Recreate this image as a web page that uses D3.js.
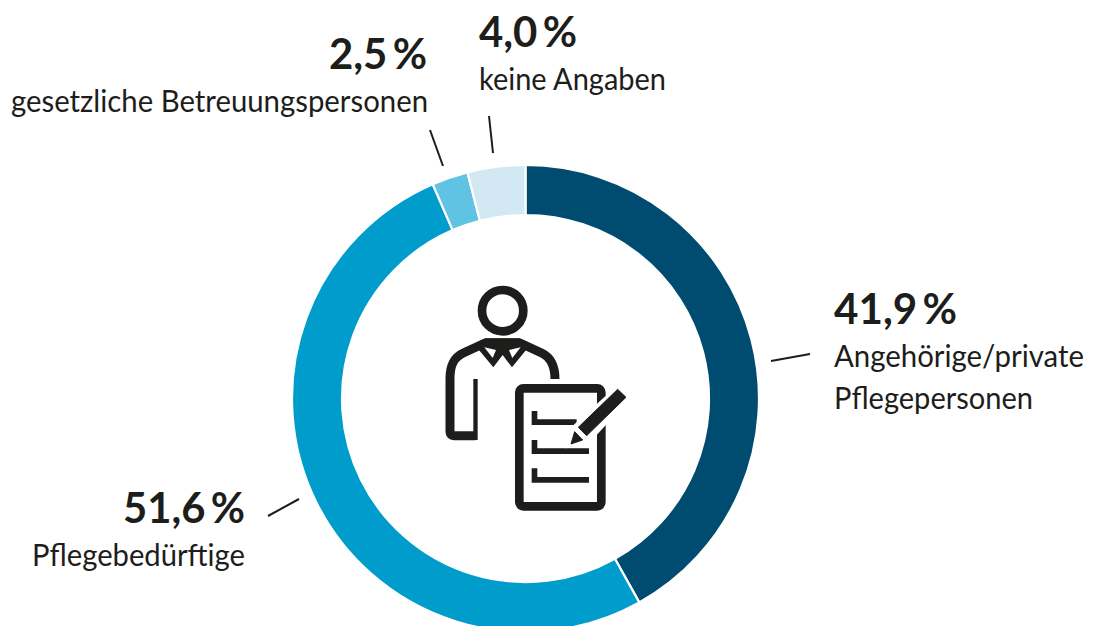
<!DOCTYPE html>
<html lang="de">
<head>
<meta charset="utf-8">
<script src="https://cdn.jsdelivr.net/npm/d3@7/dist/d3.min.js"></script>
<style>
  html, body { margin: 0; padding: 0; background: #fff; overflow: hidden; }
  svg { display: block; }
  text { font-family: Lato, "Open Sans", sans-serif; fill: #1d1d1b; }
</style>
</head>
<body>
<div id="chart"></div>
<script>
var groups = ["Angehörige/private Pflegepersonen", "Pflegebedürftige", "gesetzliche Betreuungspersonen", "keine Angaben"];
var shares = [41.9, 51.6, 2.5, 4.0];
var shareLabels = ["41,9\u2009%", "51,6\u2009%", "2,5\u2009%", "4,0\u2009%"];
var sliceColors = ["#004c70", "#009ccc", "#60c3e3", "#d2e9f3"];

var W = 1093, H = 626;
var CX = 525.5, CY = 398.5, R_OUT = 233.5, R_IN = 183.5;

var svg = d3.select("#chart").append("svg").attr("width", W).attr("height", H);

// ── Donut ──────────────────────────────────────────
var pie = d3.pie().sort(null).value(function (d) { return d; });
var arc = d3.arc().innerRadius(R_IN).outerRadius(R_OUT);

svg.append("g")
  .attr("transform", "translate(" + CX + "," + CY + ")")
  .selectAll("path")
  .data(pie(shares))
  .join("path")
  .attr("d", arc)
  .attr("fill", function (d, i) { return sliceColors[i]; })
  .attr("stroke", "#fff")
  .attr("stroke-width", 2.2);

// ── Leader lines ───────────────────────────────────
var leaders = [
  [771, 361, 810, 354],
  [299, 499, 268, 516],
  [443, 166, 430, 130],
  [493, 153, 489, 116]
];
svg.selectAll("line.leader")
  .data(leaders)
  .join("line")
  .attr("class", "leader")
  .attr("x1", function (d) { return d[0]; })
  .attr("y1", function (d) { return d[1]; })
  .attr("x2", function (d) { return d[2]; })
  .attr("y2", function (d) { return d[3]; })
  .attr("stroke", "#1d1d1b")
  .attr("stroke-width", 2);

// ── Labels: [x, baseline, anchor, width] ───────────
var valuePos = [
  [834, 324, "start", 123],
  [245, 523, "end", 122],
  [427, 69, "end", 98],
  [479, 47, "start", 98]
];
var namePos = [
  [[834, 367, "start", 250, "Angehörige/private"], [834, 409, "start", 199, "Pflegepersonen"]],
  [[245, 566, "end", 213, groups[1]]],
  [[428, 112, "end", 417, groups[2]]],
  [[479, 90, "start", 187, groups[3]]]
];

function put(t, p) {
  t.attr("x", p[0]).attr("y", p[1]).attr("text-anchor", p[2])
    .attr("textLength", p[3]).attr("lengthAdjust", "spacingAndGlyphs");
}

shareLabels.forEach(function (s, i) {
  svg.append("text").attr("font-size", 42).attr("font-weight", 700)
    .call(put, valuePos[i]).text(s);
  namePos[i].forEach(function (p) {
    svg.append("text").attr("font-size", 30).call(put, p).text(p[4]);
  });
});

// ── Icon (drawn in 3x zoom units) ──────────────────
var INK = "#1d1d1b";
var icon = svg.append("g").attr("transform", "translate(430,270) scale(0.3333)");

icon.append("circle").attr("cx", 218).attr("cy", 122).attr("r", 62)
  .attr("fill", "none").attr("stroke", INK).attr("stroke-width", 26);

// body outline
icon.append("path")
  .attr("d", "M136,497 H72 Q60,497 60,485 V325 C60,285 72,262 100,249 L165,219 H270 L335,249 C362,262 375,285 375,327")
  .attr("fill", "none").attr("stroke", INK).attr("stroke-width", 27).attr("stroke-linejoin", "round");
icon.append("rect").attr("x", 130).attr("y", 327).attr("width", 13).attr("height", 183).attr("fill", INK);

// collar
icon.append("path").attr("d", "M140,232 L165,205 L270,205 L295,232 L246,292 L218,255 L190,292 Z").attr("fill", INK);
icon.append("path").attr("d", "M163,232 L198,240 L188,264 Z").attr("fill", "#fff");
icon.append("path").attr("d", "M272,232 L237,240 L247,264 Z").attr("fill", "#fff");

// sheet
icon.append("rect").attr("x", 268).attr("y", 355).attr("width", 246).attr("height", 354).attr("rx", 12)
  .attr("fill", "#fff").attr("stroke", INK).attr("stroke-width", 26);

// check lines
[[423, 465, 440], [510, 552, 477], [595, 638, 477]].forEach(function (c) {
  icon.append("path")
    .attr("d", "M305," + c[0] + " H322 V" + (c[1] - 17) + " H" + c[2] + " V" + c[1] + " H305 Z")
    .attr("fill", INK);
});

// pen with white halo
icon.append("path").attr("d", "M563,345 L605,382 L500,495 L440,530 L405,535 L420,475 Z").attr("fill", "#fff");
icon.append("path").attr("d", "M563,358 L588,382 L470,497 L445,472 Z")
  .attr("fill", INK).attr("stroke", INK).attr("stroke-width", 3).attr("stroke-linejoin", "round");
icon.append("path").attr("d", "M434,485 L458,510 L423,522 Z")
  .attr("fill", INK).attr("stroke", INK).attr("stroke-width", 3).attr("stroke-linejoin", "round");
</script>
</body>
</html>
